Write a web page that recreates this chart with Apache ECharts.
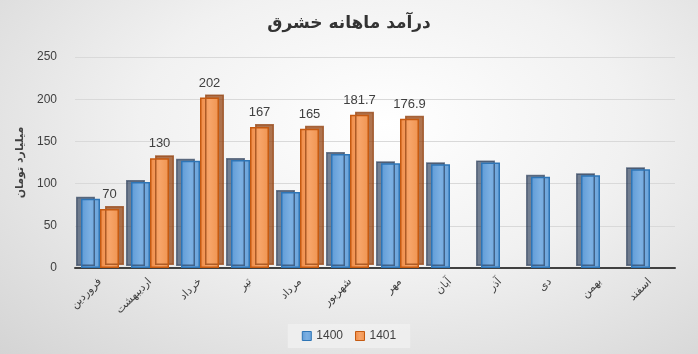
<!DOCTYPE html>
<html>
<head>
<meta charset="utf-8">
<script src="https://cdn.jsdelivr.net/npm/echarts@6/dist/echarts.min.js"></script>
<style>
  html, body { margin: 0; padding: 0; }
  #chart {
    width: 698px; height: 354px;
    background: radial-gradient(ellipse at 55% 35%, #ffffff 0%, #f1f1f1 45%, #d4d4d4 100%);
  }
</style>
</head>
<body>
<div id="chart"></div>
<script>
// months (Persian calendar)
const months = ['فروردین', 'اردیبهشت', 'خرداد', 'تیر', 'مرداد', 'شهریور', 'مهر', 'آبان', 'آذر', 'دی', 'بهمن', 'اسفند'];
// revenue, billion toman
const rev1400 = [82, 102, 127, 128, 90, 135, 124, 123, 125, 108, 110, 117];
const rev1401 = [70, 130, 202, 167, 165, 181.7, 176.9];
const yTicks = { min: 0, max: 250, interval: 50 };

const chart = echarts.init(document.getElementById('chart'));

const blueFill = new echarts.graphic.LinearGradient(0, 0, 1, 0, [
  { offset: 0, color: '#5f9bd6' },
  { offset: 0.5, color: '#7cb0e3' },
  { offset: 1, color: '#6aa3da' }
]);
const orangeFill = new echarts.graphic.LinearGradient(0, 0, 1, 0, [
  { offset: 0, color: '#ef8a45' },
  { offset: 0.5, color: '#f7a56a' },
  { offset: 1, color: '#f09450' }
]);

chart.setOption({
  backgroundColor: 'transparent',
  title: {
    text: 'درآمد ماهانه خشرق',
    left: 'center',
    top: 10,
    textStyle: { fontFamily: 'DejaVu Sans', fontSize: 17, fontWeight: 'bold', color: '#333' }
  },
  legend: {
    bottom: 6,
    left: 'center',
    icon: 'rect',
    itemWidth: 9,
    itemHeight: 9,
    itemGap: 12,
    padding: [6, 14],
    backgroundColor: 'rgba(240,240,240,0.8)',
    itemStyle: { shadowColor: 'transparent', shadowOffsetX: 0, shadowOffsetY: 0, borderWidth: 1 },
    textStyle: { fontFamily: 'Liberation Sans', fontSize: 12, color: '#404040' },
    data: ['1400', '1401']
  },
  grid: { left: 75, right: 23, top: 57, bottom: 86 },
  xAxis: {
    type: 'category',
    data: months,
    axisTick: { show: false },
    axisLine: { lineStyle: { color: '#404040', width: 2 } },
    axisLabel: {
      rotate: 45,
      interval: 0,
      margin: 12,
      fontFamily: 'DejaVu Sans',
      fontSize: 11,
      color: '#404040'
    }
  },
  yAxis: {
    type: 'value',
    min: yTicks.min,
    max: yTicks.max,
    interval: yTicks.interval,
    name: 'میلیارد تومان',
    nameLocation: 'middle',
    nameRotate: 90,
    nameGap: 32,
    nameTextStyle: { fontFamily: 'DejaVu Sans', fontSize: 11, fontWeight: 'bold', color: '#404040' },
    axisLabel: { fontFamily: 'Liberation Sans', fontSize: 12, color: '#404040', margin: 18 },
    axisLine: { show: false },
    axisTick: { show: false },
    splitLine: { lineStyle: { color: '#d9d9d9' } }
  },
  series: [
    {
      name: '1400',
      type: 'bar',
      data: rev1400,
      barWidth: 19,
      barGap: '0%',
      itemStyle: {
        color: blueFill,
        borderColor: '#2e75b6',
        borderWidth: 1.5,
        shadowColor: 'rgba(30,50,80,0.6)',
        shadowOffsetX: -5,
        shadowOffsetY: -2
      }
    },
    {
      name: '1401',
      type: 'bar',
      data: rev1401,
      barWidth: 19,
      itemStyle: {
        color: orangeFill,
        borderColor: '#c55a11',
        borderWidth: 1.5,
        shadowColor: 'rgba(150,70,20,0.75)',
        shadowOffsetX: 5,
        shadowOffsetY: -3
      },
      label: {
        show: true,
        position: 'top',
        distance: 8,
        fontFamily: 'Liberation Sans',
        fontSize: 13,
        color: '#404040'
      }
    }
  ]
});
</script>
</body>
</html>
